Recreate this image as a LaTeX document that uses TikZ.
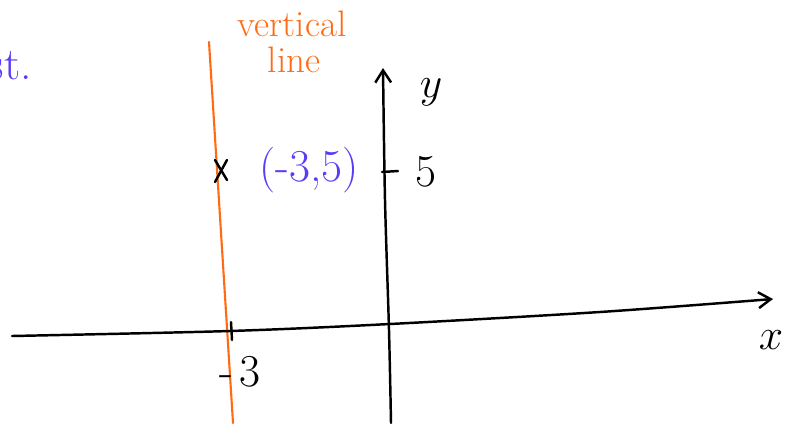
\documentclass[tikz,border=0pt]{standalone}
\usetikzlibrary{arrows.meta}

\definecolor{penblue}{HTML}{5B3BF5}
\definecolor{penorange}{HTML}{FF6A13}

\tikzset{
  pen/.style={line width=1.4pt, line cap=round, line join=round},
  orangepen/.style={pen, draw=penorange, line width=1.2pt},
  barb/.style={-{Straight Barb[length=7pt,width=9pt,line width=1.4pt]}},
  big/.style={font=\fontsize{26}{30}\selectfont},
  mid/.style={font=\fontsize{21}{24}\selectfont}
}

\begin{document}
\begin{tikzpicture}[x=0.02cm,y=-0.02cm]
\useasboundingbox (0,0) rectangle (791,423);

% note at the left edge
\node[big, anchor=east, text=penblue] (note) at (38,66) {st.};

% vertical line x = -3
\coordinate (vtop) at (209,42);
\coordinate (vbot) at (233,423);
\draw[orangepen] (vtop) -- (vbot);
\node[mid, text=penorange] (vlab) at (292,24) {vertical};
\node[mid, text=penorange] (vlab2) at (294,60) {line};

% axes
\coordinate (xstart) at (12,336);
\coordinate (origin) at (390,324);
\coordinate (xend) at (773,299);
\draw[pen, barb] plot[smooth] coordinates {(xstart) (230,331) (origin) (600,312) (xend)};
\node[big] (xlab) at (771,340) {$x$};

\coordinate (ystart) at (391,423);
\coordinate (yend) at (383,68);
\draw[pen, barb] plot[smooth] coordinates {(ystart) (389,330) (385,200) (yend)};
\node[big] (ylab) at (431,92) {$y$};

% ticks
\coordinate (t5a) at (382,172);
\coordinate (t5b) at (398,171);
\draw[pen] (t5a) -- (t5b);
\node[big] (five) at (426,172) {5};

\coordinate (t3a) at (231,322);
\coordinate (t3b) at (232,340);
\draw[pen] (t3a) -- (t3b);
\node[big] (three) at (240,372) {-\kern4pt3};

% the point (-3,5)
\coordinate (pt) at (221,170);
\draw[pen] ([shift={(-6,-10)}]pt) -- ([shift={(6,10)}]pt);
\draw[pen] ([shift={(6,-10)}]pt) -- ([shift={(-6,12)}]pt);
\node[big, text=penblue] (ptlab) at (309,170) {(-3,5)};
\end{tikzpicture}
\end{document}
